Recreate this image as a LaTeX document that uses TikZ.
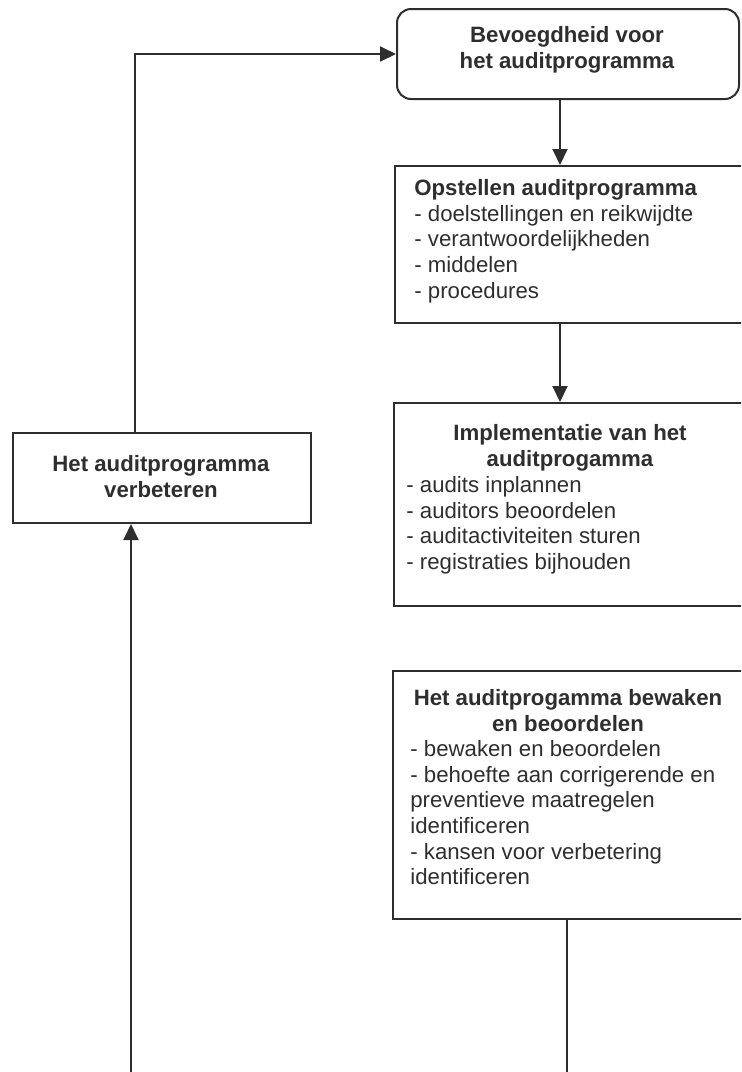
\documentclass[tikz,border=0pt]{standalone}
\usepackage{fontspec}
\setmainfont{Liberation Sans}
\usetikzlibrary{arrows.meta,calc}
\definecolor{ink}{HTML}{2E2E2E}
\begin{document}
\begin{tikzpicture}[x=0.5pt,y=-0.5pt,
  every node/.style={text=ink},
  box/.style={draw=ink, line width=1pt, rectangle, inner sep=0pt, anchor=north west},
  rbox/.style={draw=ink, line width=1pt, rectangle, rounded corners=7pt, inner sep=0pt, anchor=north west},
  txt/.style={font=\fontsize{11.1pt}{12.85pt}\selectfont, inner sep=0pt, align=left, anchor=north west},
  ttl/.style={font=\bfseries\fontsize{11.1pt}{12.85pt}\selectfont, inner sep=0pt, align=center, anchor=north},
  conn/.style={draw=ink, line width=1pt, -{Triangle[length=8pt,width=7.5pt]}},
  plain/.style={draw=ink, line width=1pt}]
\useasboundingbox (0,0) rectangle (741,1072);
\clip (0,0) rectangle (741,1072);

% boxes
\node[rbox, minimum width=171pt, minimum height=45pt] (auth) at (396,8) {};
\node[box, minimum width=177pt, minimum height=78.5pt] (plan) at (394,165) {};
\node[box, minimum width=177pt, minimum height=101.5pt] (impl) at (393,402) {};
\node[box, minimum width=177.5pt, minimum height=124pt] (mon) at (392,670) {};
\node[box, minimum width=149pt, minimum height=45pt] (impr) at (12,432) {};

% texts
\node[ttl] (authT) at (567,26) {Bevoegdheid voor\\het auditprogramma};
\node[txt] (planT) at (414,179) {\textbf{Opstellen auditprogramma}\\- doelstellingen en reikwijdte\\- verantwoordelijkheden\\- middelen\\- procedures};
\node[ttl] (implTT) at (570,424) {Implementatie van het\\auditprogamma};
\node[txt] (implT) at (406,476) {- audits inplannen\\- auditors beoordelen\\- auditactiviteiten sturen\\- registraties bijhouden};
\node[ttl] (monTT) at (568,689) {Het auditprogamma bewaken\\en beoordelen};
\node[txt] (monT) at (410,740) {- bewaken en beoordelen\\- behoefte aan corrigerende en\\preventieve maatregelen\\identificeren\\- kansen voor verbetering\\identificeren};
\node[ttl] (imprT) at (161,455) {Het auditprogramma\\verbeteren};

% connectors
\coordinate (a1) at (560,0);
\coordinate (b1) at (567,1080);
\coordinate (b2) at (131,1080);
\coordinate (t1) at (135,0);
\draw[conn] (auth.south -| a1) -- (plan.north -| a1);
\draw[conn] (plan.south -| a1) -- (impl.north -| a1);
\draw[plain] (mon.south -| b1) -- (b1);
\draw[conn] (b2) -- (b2 |- impr.south);
\draw[conn] (impr.north -| t1) |- (auth.west);
\end{tikzpicture}
\end{document}
